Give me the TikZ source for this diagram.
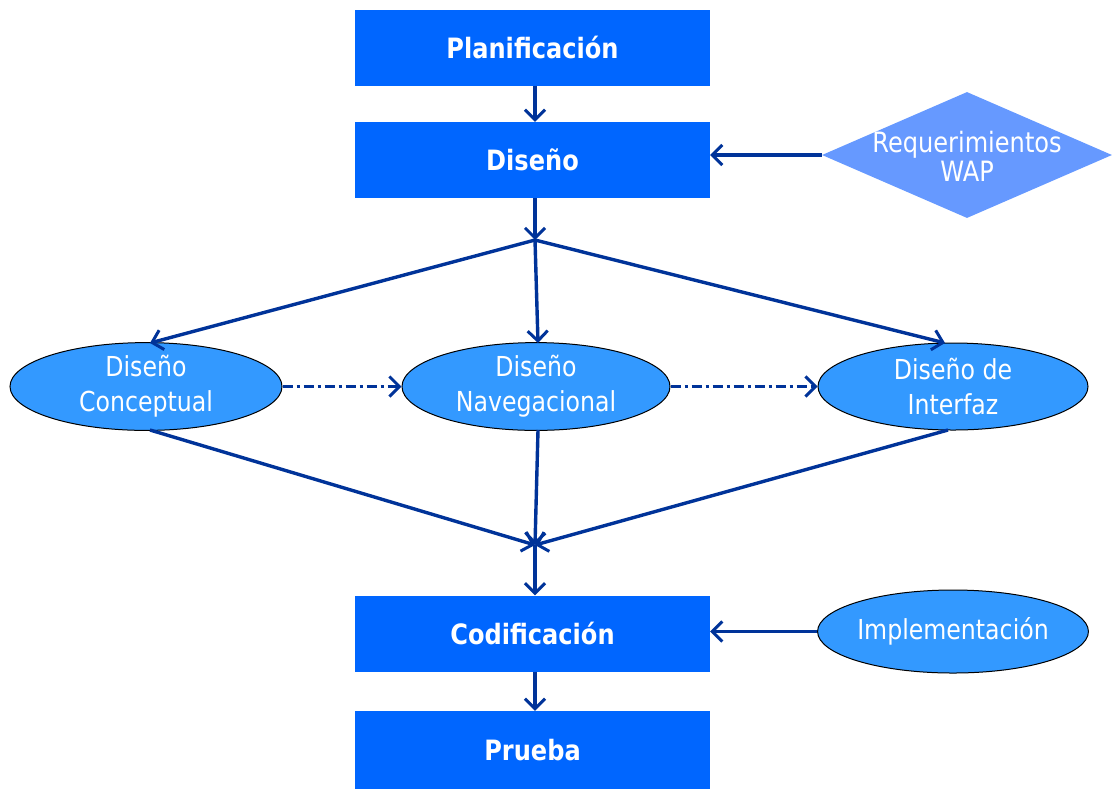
\documentclass[tikz,border=0pt]{standalone}
\usepackage{fontspec}
\setmainfont[FakeStretch=0.86]{DejaVu Sans}
\usetikzlibrary{arrows.meta,shapes.geometric}
\definecolor{boxblue}{HTML}{0066FF}
\definecolor{ellblue}{HTML}{3399FF}
\definecolor{diablue}{HTML}{6699FF}
\definecolor{linkblue}{HTML}{003399}
\begin{document}
\begin{tikzpicture}[x=1pt,y=-1pt,
  stage/.style={fill=boxblue,minimum width=355pt,minimum height=76pt,inner sep=0pt,
    text=white,font=\fontsize{28}{30}\selectfont\bfseries},
  activity/.style={ellipse,draw=black,line width=1pt,fill=ellblue,minimum width=272pt,
    minimum height=87pt,inner sep=0pt,text=white,align=center,
    font=\fontsize{27.5}{35}\selectfont},
  input/.style={diamond,fill=diablue,minimum width=290pt,minimum height=126pt,inner sep=0pt},
  inputtext/.style={text=white,align=center,inner sep=0pt,font=\fontsize{28}{29}\selectfont},
  flow/.style={draw=linkblue,line width=3.4pt,-{Straight Barb[length=10pt,width=20pt,line width=3pt]}},
  hint/.style={flow,dash pattern=on 10pt off 4pt on 3pt off 4pt}]
\useasboundingbox (0,0) rectangle (1115,788);
\fill[white] (0,0) rectangle (1115,788);

\node[stage] (plan) at (532.5,47.5) {Planificación};
\node[stage] (dis) at (532.5,160) {Diseño};
\node[stage] (cod) at (532.5,633.5) {Codificación};
\node[stage,minimum height=78pt] (pru) at (532.5,750) {Prueba};

\node[input,label={[inputtext,yshift=-1pt]center:Requerimientos\\WAP}] (req) at (967,155) {};

\node[activity] (con) at (146,386.5) {Diseño\\Conceptual};
\node[activity,minimum width=268pt] (nav) at (536,386.5) {Diseño\\Navegacional};
\node[activity,minimum width=270pt] (int) at (953,386.5) {Diseño de\\Interfaz};
\node[activity,minimum width=270pt,minimum height=83pt] (imp) at (953,631.5) {Implementación};

\coordinate (split) at (535,240);
\coordinate (join) at (535,545);

\draw[flow] (plan.south -| 535,0) -- (dis.north -| 535,0);
\draw[flow] (dis.south -| 535,0) -- (split);
\draw[flow] (split) -- (150,343);
\draw[flow] (split) -- (538,343);
\draw[flow] (split) -- (945,343);

\draw[hint] (con.east) -- (nav.west);
\draw[hint] (nav.east) -- (int.west);

\draw[flow] (150,430) -- (join);
\draw[flow] (538,430) -- (join);
\draw[flow] (948,430) -- (join);
\draw[flow] (join) -- (cod.north -| 535,0);
\draw[flow] (cod.south -| 535,0) -- (pru.north -| 535,0);

\draw[flow] (req.west) -- (req.west -| dis.east);
\draw[flow] (imp.west) -- (imp.west -| cod.east);
\end{tikzpicture}
\end{document}
